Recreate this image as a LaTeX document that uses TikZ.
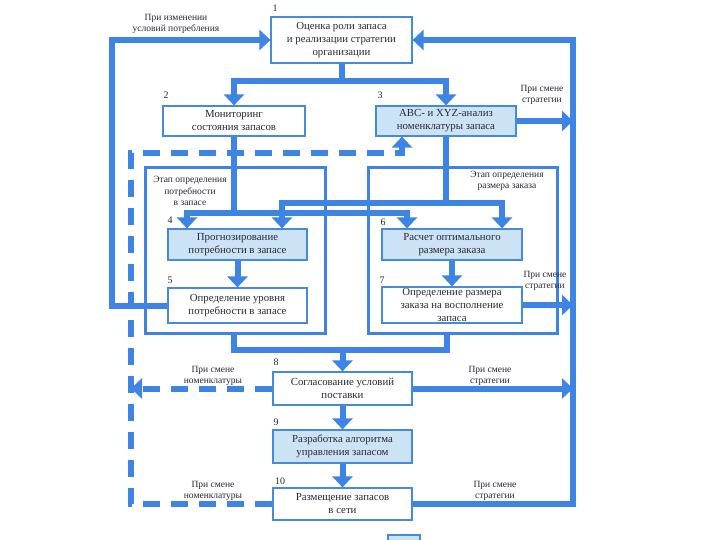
\documentclass[tikz,border=0pt]{standalone}
\usepackage{fontspec}
\setmainfont{Liberation Serif}
\usetikzlibrary{arrows.meta}
\definecolor{ln}{RGB}{62,132,228}
\definecolor{bd}{RGB}{70,138,220}
\definecolor{bx}{RGB}{204,227,245}
\definecolor{tx}{RGB}{40,40,50}
\begin{document}
\begin{tikzpicture}[x=1pt,y=-1pt,
  box/.style={draw=bd, line width=1.2pt, fill=white, align=center, inner sep=0pt,
    font=\fontsize{10.8}{13}\selectfont, text=tx},
  fbox/.style={box, fill=bx},
  stage/.style={draw=ln, line width=3pt, inner sep=0pt},
  conn/.style={draw=ln, line width=6pt, line join=miter},
  tipa/.style={-{Triangle[width=20pt,length=11pt]}},
  arr/.style={conn, tipa},
  arrboth/.style={conn, {Triangle[width=20pt,length=11pt]}-{Triangle[width=20pt,length=11pt]}},
  dsh/.style={draw=ln, line width=6pt, dash pattern=on 17pt off 11pt},
  num/.style={font=\fontsize{10}{11}\selectfont, text=tx, inner sep=0pt},
  lbl/.style={font=\fontsize{9.5}{11.5}\selectfont, text=tx, align=center, inner sep=0pt}]
\useasboundingbox[fill=white] (0,0) rectangle (720,540);

% stage rectangles
\node[stage, minimum width=180pt, minimum height=165pt] (s1) at (235,250.5) {};
\node[stage, minimum width=189pt, minimum height=165pt] (s2) at (462.5,250.5) {};
\node[lbl] (sl1) at (190,191) {Этап определения\\потребности\\в запасе};
\node[lbl] (sl2) at (507,181) {Этап определения\\размера заказа};

% boxes
\node[box, minimum width=141pt, minimum height=46pt] (b1) at (341.5,40) {Оценка роли запаса\\и реализации стратегии\\организации};
\node[box, minimum width=142pt, minimum height=30pt] (b2) at (234,121) {Мониторинг\\состояния запасов};
\node[fbox, minimum width=140pt, minimum height=30pt] (b3) at (446,121) {ABC- и XYZ-анализ\\номенклатуры запаса};
\node[fbox, minimum width=139pt, minimum height=31pt] (b4) at (237.5,244.5) {Прогнозирование\\потребности в запасе};
\node[box, minimum width=139pt, minimum height=35pt] (b5) at (237.5,305.5) {Определение уровня\\потребности в запасе};
\node[fbox, minimum width=140pt, minimum height=31pt] (b6) at (452,244.5) {Расчет оптимального\\размера заказа};
\node[box, minimum width=140pt, minimum height=36pt] (b7) at (452,305) {Определение размера\\заказа на восполнение\\запаса};
\node[box, minimum width=139pt, minimum height=33pt] (b8) at (342.5,388.5) {Согласование условий\\поставки};
\node[fbox, minimum width=139pt, minimum height=33pt] (b9) at (342.5,446.5) {Разработка алгоритма\\управления запасом};
\node[box, minimum width=139pt, minimum height=32pt] (b10) at (342.5,504) {Размещение запасов\\в сети};

% numbers
\node[num] (n1) at (275,8) {1};
\node[num] (n2) at (166,95) {2};
\node[num] (n3) at (380,95) {3};
\node[num] (n4) at (170,220) {4};
\node[num] (n5) at (170,280) {5};
\node[num] (n6) at (383,222) {6};
\node[num] (n7) at (382,280) {7};
\node[num] (n8) at (276,362) {8};
\node[num] (n9) at (276,422) {9};
\node[num] (n10) at (280,481) {10};

% labels
\node[lbl] (l1) at (176,24) {При изменении\\условий потребления};
\node[lbl] (l2) at (542,95) {При смене\\стратегии};
\node[lbl] (l3) at (545,281) {При смене\\стратегии};
\node[lbl] (l4) at (213,376) {При смене\\номенклатуры};
\node[lbl] (l5) at (490,376) {При смене\\стратегии};
\node[lbl] (l6) at (213,491) {При смене\\номенклатуры};
\node[lbl] (l7) at (495,491) {При смене\\стратегии};

% helper coordinates
\coordinate (Lx) at (112,0);
\coordinate (Rx) at (573,0);
\coordinate (Dx) at (131,0);
\coordinate (Dtop) at (402,153);
\coordinate (T) at (341.5,81);
\coordinate (pA1) at (187,213);
\coordinate (pA2) at (407,213);
\coordinate (pB1) at (282,203);
\coordinate (pB2) at (502,203);
\coordinate (Bx) at (447,0);
\coordinate (M) at (342.5,350);

% dashed connectors
\draw[dsh, tipa] (b10.west) -- (b10.west -| Dx) -- (Dtop -| Dx) -- (Dtop) -- (Dtop |- b3.south);
\draw[dsh, tipa] (b8.west) -- (b8.west -| Dx);

% solid connectors
\draw[conn] (b1.south) -- (T);
\draw[arrboth] (b2.north) |- (T) -| (b3.north);
\draw[conn] (b2.south) -- (b2.south |- pA1);
\draw[arrboth] (pA1 |- b4.north) -- (pA1) -- (pA2) -- (pA2 |- b6.north);
\draw[conn] (b3.south) -- (b3.south |- pB1);
\draw[arrboth] (pB1 |- b4.north) -- (pB1) -- (pB2) -- (pB2 |- b6.north);
\draw[arr] (b4) -- (b5);
\draw[arr] (b6) -- (b7);
\draw[arr] (b5.west) -- (b5.west -| Lx) -- (b1.west -| Lx) -- (b1.west);
\draw[arr] (b10.east) -- (b10.east -| Rx) -- (b1.east -| Rx) -- (b1.east);
\draw[arr] (b3.east) -- (b3.east -| Rx);
\draw[arr] (b7.east) -- (b7.east -| Rx);
\draw[arr] (b8.east) -- (b8.east -| Rx);
\draw[conn] (s1.south -| b2) |- (M) -| (s2.south -| Bx);
\draw[arr] (M) -- (b8.north);
\draw[arr] (b8) -- (b9);
\draw[arr] (b9) -- (b10);

% legend (cut off)
\node[fbox, minimum width=32pt, minimum height=14pt] (leg) at (404,542) {};
\end{tikzpicture}
\end{document}
